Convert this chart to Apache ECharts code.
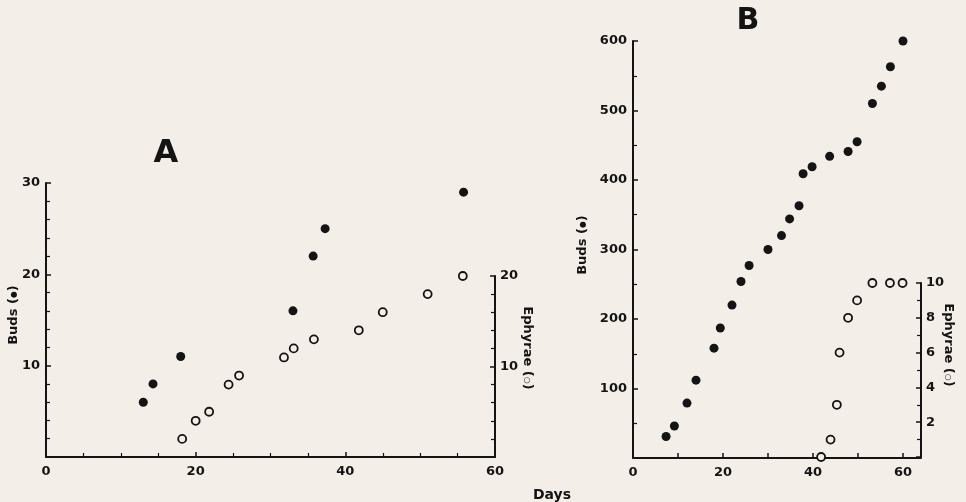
<!DOCTYPE html>
<html><head><meta charset="utf-8">
<script src="https://cdn.jsdelivr.net/npm/echarts@6/dist/echarts.min.js"></script>
<style>html,body{margin:0;padding:0;background:#f4eee9;}#c{width:966px;height:502px;}</style>
</head><body><div id="c"></div>
<script>
// Panel A
const aBudsDays = [13, 14.3, 18, 33, 35.7, 37.3, 55.8];
const aBuds = [6, 8, 11, 16, 22, 25, 29];
const aEphDays = [18.2, 20, 21.8, 24.4, 25.8, 31.8, 33.1, 35.8, 41.8, 45, 51, 55.7];
const aEph = [2, 4, 5, 8, 9, 11, 12, 13, 14, 16, 18, 20];
// Panel B
const bBudsDays = [7.35, 9.2, 12, 14, 18, 19.4, 22, 24, 25.8, 30, 33, 34.8, 36.9, 37.8, 39.8, 43.7, 47.8, 49.8, 53.2, 55.2, 57.2, 60];
const bBuds = [31, 46, 79, 112, 158, 187, 220, 254, 277, 300, 320, 344, 363, 409, 419, 434, 441, 455, 510, 535, 563, 600];
const bEphDays = [41.8, 43.9, 45.3, 45.9, 47.8, 49.8, 53.2, 57.1, 59.9];
const bEph = [0, 1, 3, 6, 8, 9, 10, 10, 10];
// Tick labels
const aXTicks = [0, 20, 40, 60];
const aBudTicks = [10, 20, 30];
const aEphTicks = [10, 20];
const bXTicks = [0, 20, 40, 60];
const bBudTicks = [100, 200, 300, 400, 500, 600];
const bEphTicks = [2, 4, 6, 8, 10];

const INK = '#141414';
const BG = '#f4eee9';
const FONT = 'DejaVu Sans';
const zip = (xs, ys) => xs.map((x, i) => [x, ys[i]]);
const fmt = list => v => (list.indexOf(v) >= 0 ? String(v) : '');
const lab = (list, extra) => Object.assign({ formatter: fmt(list), color: INK, fontFamily: FONT, fontWeight: 'bold', fontSize: 13 }, extra || {});
const line = { show: true, onZero: false, lineStyle: { color: INK, width: 2 } };
const tick = { show: true, inside: true, length: 5, lineStyle: { color: INK, width: 1.5 } };
const minor = n => ({ show: true, splitNumber: n, length: 4, lineStyle: { color: INK, width: 1.2 } });
const filled = { color: INK, opacity: 1 };
const open = { color: BG, borderColor: INK, borderWidth: 1.8, opacity: 1 };
const nameStyle = text => ({ text: text, fill: INK, fontFamily: FONT, fontWeight: 'bold', fontSize: 13, align: 'center', verticalAlign: 'middle', rich: { s: { fontFamily: FONT, fontWeight: 'bold', fontSize: 8, fill: INK } } });

const chart = echarts.init(document.getElementById('c'), null, { renderer: 'canvas' });
chart.setOption({
  backgroundColor: BG,
  animation: false,
  grid: [
    { left: 46, top: 183, width: 449, height: 274 },
    { left: 46, top: 276, width: 449, height: 181 },
    { left: 633, top: 41, width: 288, height: 417 },
    { left: 633, top: 283, width: 288, height: 174 }
  ],
  xAxis: [
    { gridIndex: 0, type: 'value', min: 0, max: 60, interval: 20, axisLine: line, axisTick: tick, minorTick: minor(4), splitLine: { show: false }, axisLabel: lab(aXTicks, { margin: 8 }) },
    { gridIndex: 1, type: 'value', min: 0, max: 60, show: false },
    { gridIndex: 2, type: 'value', min: 0, max: 64, interval: 10, axisLine: line, axisTick: tick, splitLine: { show: false }, axisLabel: lab(bXTicks, { margin: 8, showMaxLabel: false }) },
    { gridIndex: 3, type: 'value', min: 0, max: 64, show: false }
  ],
  yAxis: [
    { gridIndex: 0, type: 'value', position: 'left', min: 0, max: 30, interval: 10, axisLine: line, axisTick: tick, minorTick: minor(5), splitLine: { show: false }, axisLabel: lab(aBudTicks, { margin: 6 }) },
    { gridIndex: 1, type: 'value', position: 'right', min: 0, max: 20, interval: 10, axisLine: line, axisTick: tick, minorTick: minor(5), splitLine: { show: false }, axisLabel: lab(aEphTicks, { margin: 5 }) },
    { gridIndex: 2, type: 'value', position: 'left', min: 0, max: 600, interval: 100, axisLine: line, axisTick: tick, minorTick: minor(2), splitLine: { show: false }, axisLabel: lab(bBudTicks, { margin: 6 }) },
    { gridIndex: 3, type: 'value', position: 'right', min: 0, max: 10, interval: 2, axisLine: line, axisTick: tick, minorTick: minor(2), splitLine: { show: false }, axisLabel: lab(bEphTicks, { margin: 5 }) }
  ],
  series: [
    { type: 'scatter', clip: false, xAxisIndex: 0, yAxisIndex: 0, data: zip(aBudsDays, aBuds), symbol: 'circle', symbolSize: 9, itemStyle: filled },
    { type: 'scatter', clip: false, xAxisIndex: 1, yAxisIndex: 1, data: zip(aEphDays, aEph), symbol: 'circle', symbolSize: 8, itemStyle: open },
    { type: 'scatter', clip: false, xAxisIndex: 2, yAxisIndex: 2, data: zip(bBudsDays, bBuds), symbol: 'circle', symbolSize: 9, itemStyle: filled },
    { type: 'scatter', clip: false, xAxisIndex: 3, yAxisIndex: 3, data: zip(bEphDays, bEph), symbol: 'circle', symbolSize: 8, itemStyle: open }
  ],
  graphic: [
    { type: 'text', x: 166, y: 154, style: { text: 'A', fill: INK, font: 'bold 32px "DejaVu Sans"', align: 'center', verticalAlign: 'middle' } },
    { type: 'text', x: 748, y: 21, style: { text: 'B', fill: INK, font: 'bold 30px "DejaVu Sans"', align: 'center', verticalAlign: 'middle' } },
    { type: 'text', x: 552, y: 495, style: { text: 'Days', fill: INK, font: 'bold 14px "DejaVu Sans"', align: 'center', verticalAlign: 'middle' } },
    { type: 'text', x: 14, y: 315, rotation: Math.PI / 2, style: nameStyle('Buds ({s|●})') },
    { type: 'text', x: 527, y: 348, rotation: -Math.PI / 2, style: nameStyle('Ephyrae ({s|○})') },
    { type: 'text', x: 583, y: 245, rotation: Math.PI / 2, style: nameStyle('Buds ({s|●})') },
    { type: 'text', x: 948, y: 345, rotation: -Math.PI / 2, style: nameStyle('Ephyrae ({s|○})') }
  ]
});
</script></body></html>
